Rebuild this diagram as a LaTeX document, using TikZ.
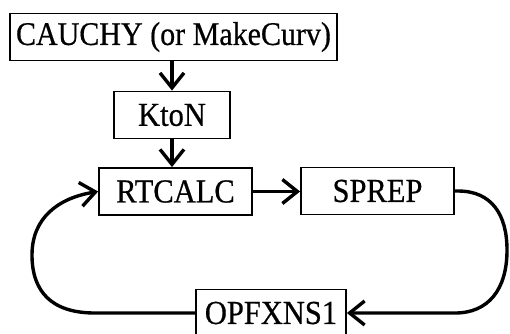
\documentclass[tikz,border=0pt]{standalone}
\usepackage{fontspec}
\setmainfont[FakeBold=0.6]{Liberation Serif}
\usetikzlibrary{arrows.meta}
\newcommand{\tallt}[1]{\scalebox{1}[1.1]{#1}}
\begin{document}
\begin{tikzpicture}[x=1pt,y=-1pt,
  box/.style={draw=black,line width=1.8pt,minimum height=47pt,inner xsep=6pt,inner ysep=0pt,
    font=\fontsize{30.5}{31}\selectfont,text=black},
  wbox/.style={box,minimum width=153pt},
  conn/.style={line width=3.4pt,-{Straight Barb[length=15pt,width=24pt,line width=3.4pt]}}]
\clip (0,0) rectangle (510,333);
\fill[white] (0,0) rectangle (510,333);
\node[box,font=\fontsize{30}{31}\selectfont] (cauchy) at (173.5,37) {\tallt{CAUCHY (or MakeCurv)}};
\node[box,minimum width=116pt] (kton) at (172,115) {\tallt{KtoN}};
\node[wbox,minimum height=47pt] (rt) at (175.5,191.5) {\tallt{RTCALC}};
\node[wbox] (sp) at (377.5,191) {\tallt{SPREP}};
\node[wbox,minimum width=150pt] (opf) at (271,313) {\tallt{OPFXNS1}};
\draw[conn] (kton.north |- cauchy.south) -- (kton.north);
\draw[conn] (kton.south) -- (kton.south |- rt.north);
\draw[conn] (rt.east) -- (sp.west |- rt.east);
\draw[conn] (opf.west) -- (95,313) .. controls (52,313) and (32,292) .. (32,255)
   .. controls (32,218) and (58,198) .. (rt.west);
\draw[conn] (sp.east) -- (458,191) .. controls (492,191) and (507,215) .. (507,250)
   .. controls (507,290) and (488,313) .. (455,313) -- (opf.east);
\end{tikzpicture}
\end{document}
